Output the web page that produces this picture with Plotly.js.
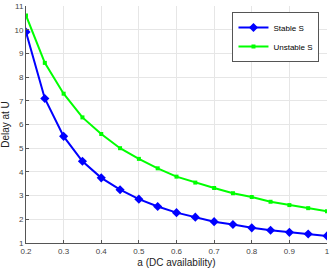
<!DOCTYPE html>
<html><head><meta charset="utf-8">
<script src="https://cdn.plot.ly/plotly-3.0.1.min.js"></script>
<style>html,body{margin:0;padding:0;background:#fff}#c{width:332px;height:269px}</style>
</head><body><div id="c"></div>
<script>
const aValues = [0.2,0.25,0.3,0.35,0.4,0.45,0.5,0.55,0.6,0.65,0.7,0.75,0.8,0.85,0.9,0.95,1.0];
const stableS = [9.9,7.1,5.5,4.45,3.75,3.25,2.85,2.54,2.28,2.09,1.9,1.78,1.64,1.54,1.45,1.38,1.3];
const unstableS = [10.6,8.6,7.3,6.3,5.6,5.0,4.55,4.15,3.8,3.55,3.32,3.1,2.94,2.74,2.6,2.47,2.34];
const xTicks = [0.2,0.3,0.4,0.5,0.6,0.7,0.8,0.9,1];
const xTickText = ['0.2','0.3','0.4','0.5','0.6','0.7','0.8','0.9','1'];

const traces = [
 {x:aValues,y:stableS,name:'Stable S',mode:'lines+markers',
  line:{color:'#0000ff',width:2},marker:{symbol:'diamond',size:7,color:'#0000ff'}},
 {x:aValues,y:unstableS,name:'Unstable S',mode:'lines+markers',
  line:{color:'#00ff00',width:2},marker:{symbol:'square',size:4,color:'#00ff00'}}
];
const axisCommon = {showgrid:true,gridcolor:'#e6e6e6',gridwidth:1,zeroline:false,
  showline:true,linecolor:'#555',linewidth:1,ticks:'inside',ticklen:3,tickcolor:'#555',
  tickfont:{family:'Liberation Sans, Arial, sans-serif',size:8,color:'#444'},mirror:false};
const layout = {
 width:332,height:269,margin:{l:26,r:5,t:6,b:26},
 paper_bgcolor:'#fff',plot_bgcolor:'#fff',
 font:{family:'Liberation Sans, Arial, sans-serif'},
 xaxis:Object.assign({},axisCommon,{range:[0.2,1],tickvals:xTicks,ticktext:xTickText,
   title:{text:'a (DC availability)',font:{size:10,color:'#222'},standoff:4}}),
 yaxis:Object.assign({},axisCommon,{range:[1,11],dtick:1,
   title:{text:'Delay at U',font:{size:10,color:'#222'},standoff:4}}),
 legend:{x:0.975,y:0.975,xanchor:'right',yanchor:'top',bgcolor:'#fff',bordercolor:'#555',borderwidth:1,
   font:{size:8,color:'#000'},tracegroupgap:0,itemwidth:30},
 showlegend:true
};
Plotly.newPlot('c',traces,layout,{displayModeBar:false,staticPlot:true});
</script></body></html>
